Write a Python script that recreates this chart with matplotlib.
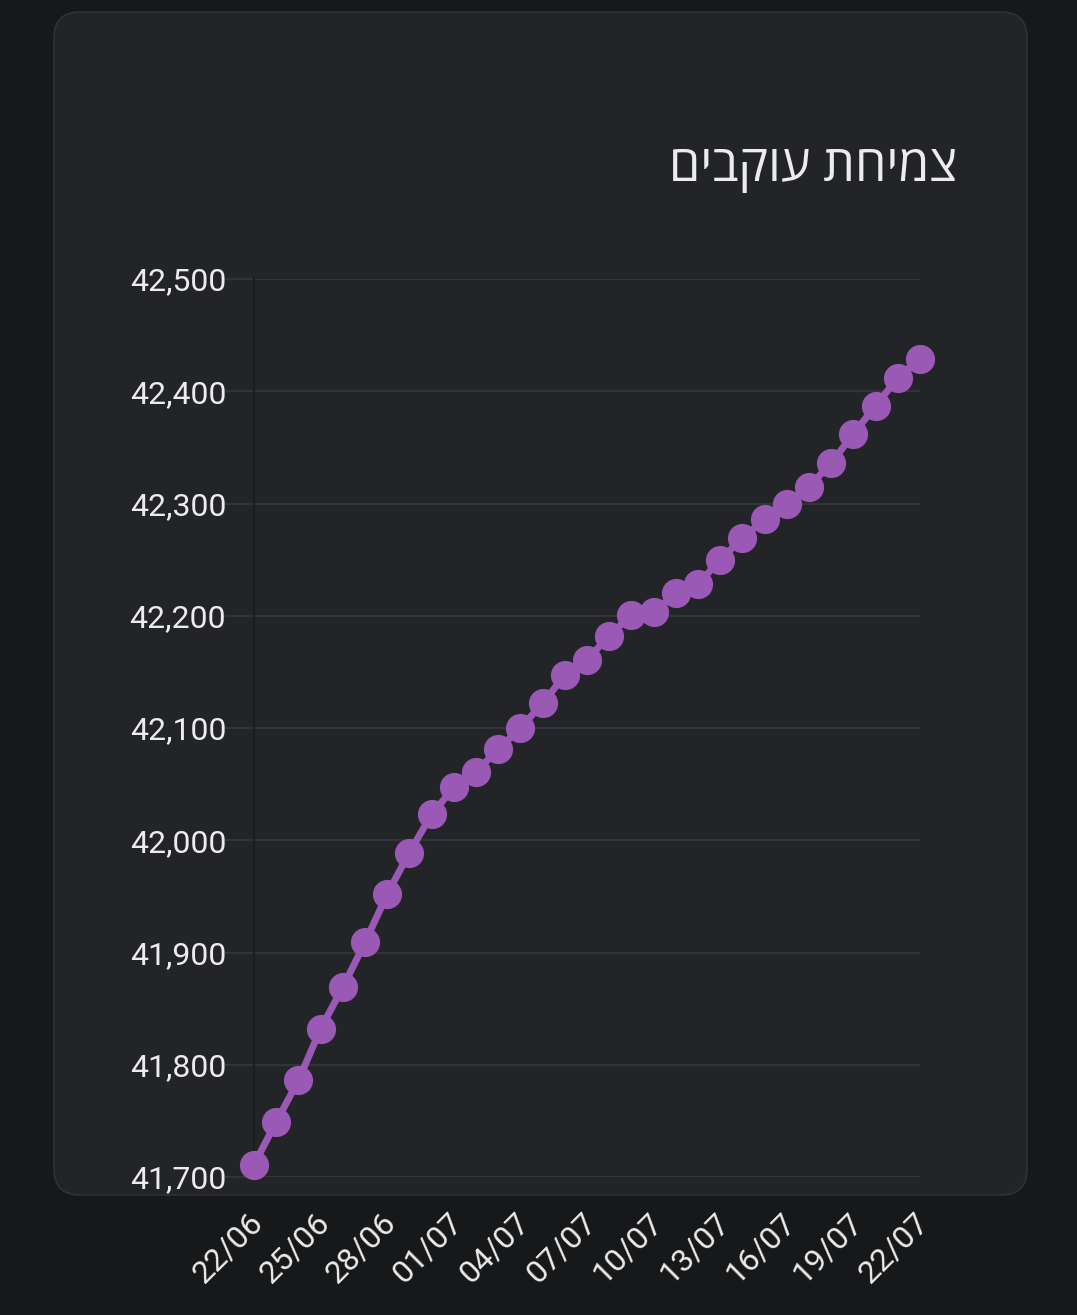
import matplotlib
matplotlib.use("Agg")
import matplotlib.pyplot as plt
import matplotlib.transforms as mtransforms
from matplotlib.patches import FancyBboxPatch
from matplotlib.ticker import FuncFormatter, MultipleLocator

# data
dates = ["22/06", "23/06", "24/06", "25/06", "26/06", "27/06", "28/06", "29/06",
         "30/06", "01/07", "02/07", "03/07", "04/07", "05/07", "06/07", "07/07",
         "08/07", "09/07", "10/07", "11/07", "12/07", "13/07", "14/07", "15/07",
         "16/07", "17/07", "18/07", "19/07", "20/07", "21/07", "22/07"]
followers = [41711, 41749, 41786, 41832, 41869, 41909, 41952, 41989,
             42023, 42047, 42061, 42081, 42100, 42122, 42147, 42161,
             42182, 42201, 42203, 42220, 42228, 42250, 42269, 42286,
             42300, 42315, 42336, 42362, 42387, 42412, 42429]
title = "צמיחת עוקבים"

bg = "#17181a"
card = "#232428"
grid = "#323337"
text = "#ececec"
purple = "#9b59b6"

W, H = 1077, 1315
fig = plt.figure(figsize=(W / 100, H / 100), dpi=100, facecolor=bg)

# rounded card behind the chart
fig.patches.append(FancyBboxPatch(
    (54 / W, 1 - 1195 / H), (1027 - 54) / W, (1195 - 12) / H,
    boxstyle="round,pad=0,rounding_size=0.024",
    transform=fig.transFigure, facecolor=card, edgecolor="#303135",
    linewidth=1.2, zorder=-5, mutation_aspect=W / H))

# matplotlib has no bidi, so feed the Hebrew in visual order
fig.text(957 / W, 1 - 168 / H, title[::-1], ha="right", va="center",
         fontsize=36, fontweight="medium", color=text,
         family=["Open Sans", "DejaVu Sans"])

ax = fig.add_axes([254 / W, 1 - 1177 / H, (920 - 254) / W, (1177 - 279) / H])
ax.set_facecolor("none")
x = list(range(len(dates)))
ax.plot(x, followers, color=purple, lw=5, marker="o", ms=21,
        markeredgewidth=0, clip_on=False, zorder=3)

ax.set_xlim(0, len(dates) - 1)
ax.set_ylim(41700, 42500)
ax.yaxis.set_major_locator(MultipleLocator(100))
ax.yaxis.set_major_formatter(FuncFormatter(lambda v, p: f"{v:,.0f}"))
ax.set_xticks(x[::3])
ax.set_xticklabels(dates[::3], rotation=45, ha="right", va="top",
                   rotation_mode="anchor")

ax.grid(axis="y", color=grid, lw=1.6)
ax.set_axisbelow(True)
for s in ["top", "right", "bottom"]:
    ax.spines[s].set_visible(False)
ax.spines["left"].set_color("#1b1c1f")
ax.spines["left"].set_linewidth(1.5)

ax.tick_params(axis="y", length=21, width=1.6, color=grid, pad=-1,
               labelsize=23, labelcolor=text)
ax.tick_params(axis="x", length=0, pad=22, labelsize=23, labelcolor=text)
shift = mtransforms.ScaledTranslation(-6 / 100, 0, fig.dpi_scale_trans)
for lab in ax.get_xticklabels():
    lab.set_family("Roboto")
    lab.set_transform(lab.get_transform() + shift)
for lab in ax.get_yticklabels():
    lab.set_family("Roboto")

fig.savefig("out.png", facecolor=bg)
